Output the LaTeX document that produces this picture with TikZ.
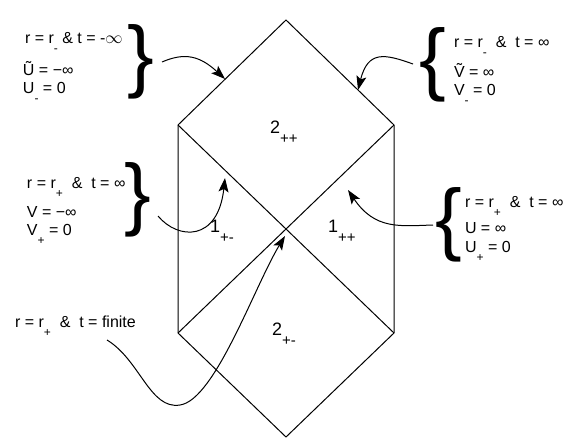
\documentclass[tikz,border=0pt]{standalone}
\usepackage{fontspec}
\setmainfont{Liberation Sans}
\usetikzlibrary{arrows.meta}

% lowered small index, as in r_+ or 2_{++}
\newcommand{\lo}[2][12]{\raisebox{-0.6em}{\fontsize{#1}{#1}\selectfont #2}}

\begin{document}
\begin{tikzpicture}[x=1pt,y=-1pt,
    every node/.style={inner sep=0pt, outer sep=0pt},
    txt/.style={anchor=base west, font=\fontsize{16}{16}\selectfont},
    region/.style={anchor=base west, font=\fontsize{18}{18}\selectfont},
    brace/.style={font=\fontsize{80}{80}\selectfont},
    edge/.style={line width=1pt},
    pointer/.style={line width=1pt, -{Stealth[length=14pt,width=10pt,inset=3pt]}}]

    \useasboundingbox (0,0) rectangle (581,447);

    % Corners of the diagram
    \coordinate (T) at (286,20);
    \coordinate (L) at (178,125);
    \coordinate (R) at (394,125);
    \coordinate (C) at (286,229);
    \coordinate (BL) at (178,333);
    \coordinate (BR) at (394,333);
    \coordinate (B) at (286,437);

    % Draw the outline and the two diagonals
    \draw[edge] (L) -- (T) -- (R) -- (BR) -- (B) -- (BL) -- cycle;
    \draw[edge] (L) -- (BR);
    \draw[edge] (R) -- (BL);

    % Label the regions
    \node[region] (r2pp) at (270,133) {2\lo[15]{++}};
    \node[region] (r1pm) at (210,232) {1\lo[15]{+-}};
    \node[region] (r1pp) at (328,232) {1\lo[15]{++}};
    \node[region] (r2pm) at (272,335) {2\lo[15]{+-}};

    % Top left
    \node[txt] (tl1) at (25,43) {r = r\lo{-} \& t = -$\infty$};
    \node[txt] (tl2) at (23,75) {\~{U} = −∞};
    \node[txt] (tl3) at (23,93) {U\lo{-} = 0};
    \node[brace] (bTL) at (141,62) {\}};

    % Top right
    \node[txt] (tr1) at (454,47) {r = r\lo{-} ~\& ~t = ∞};
    \node[txt] (tr2) at (454,77) {\~{V} = ∞};
    \node[txt] (tr3) at (454,95) {V\lo{-} = 0};
    \node[brace] (bTR) at (433,65) {\{};

    % Middle left
    \node[txt] (ml1) at (27,188) {r = r\lo{+} ~\& ~t = ∞};
    \node[txt] (ml2) at (27,217) {V = −∞};
    \node[txt] (ml3) at (27,235) {V\lo{+} = 0};
    \node[brace] (bML) at (138,200) {\}};

    % Middle right
    \node[txt] (mr1) at (465,207) {r = r\lo{+} ~\& ~t = ∞};
    \node[txt] (mr2) at (465,233) {U = ∞};
    \node[txt] (mr3) at (465,252) {U\lo{+} = 0};
    \node[brace] (bMR) at (449,225) {\{};

    % Bottom
    \node[txt] (bot) at (15,327) {r = r\lo{+} ~\& ~t = finite};

    % Arrow ends
    \coordinate (sTL) at (162,62);
    \coordinate (eTL) at (225,79);
    \coordinate (sTR) at (413,64);
    \coordinate (eTR) at (358,90);
    \coordinate (sML) at (158,216);
    \coordinate (eML) at (225,178);
    \coordinate (sMR) at (433,225);
    \coordinate (eMR) at (348,190);
    \coordinate (sB) at (107,340);
    \coordinate (eB) at (285,236);

    % Draw the pointers
    \draw[pointer] (sTL) .. controls (185,52) and (200,56) .. (eTL);
    \draw[pointer] (sTR) .. controls (385,54) and (368,50) .. (eTR);
    \draw[pointer] (sML) .. controls (178,240) and (218,242) .. (eML);
    \draw[pointer] (sMR) .. controls (400,226) and (375,230) .. (eMR);
    \draw[pointer] (sB) .. controls (140,360) and (150,410) .. (180,405)
                        .. controls (215,400) and (255,285) .. (eB);
\end{tikzpicture}
\end{document}
